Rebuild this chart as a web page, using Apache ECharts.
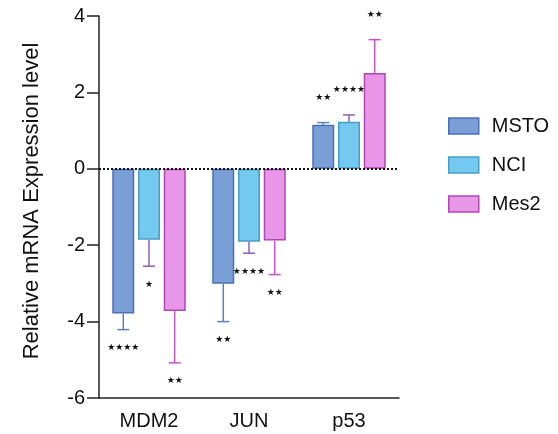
<!DOCTYPE html>
<html>
<head>
<meta charset="utf-8">
<script src="https://cdn.jsdelivr.net/npm/echarts@6/dist/echarts.min.js"></script>
<style>
html, body { margin: 0; padding: 0; background: #fff; }
#main { width: 558px; height: 434px; }
</style>
</head>
<body>
<div id="main"></div>
<script>
// 数据
const genes = ['MDM2', 'JUN', 'p53'];
const seriesNames = ['MSTO', 'NCI', 'Mes2'];
const msto = [-3.79, -3.01, 1.15];
const mstoErr = [0.42, 0.99, 0.06];
const mstoStars = ['****', '**', '**'];
const nci = [-1.86, -1.91, 1.23];
const nciErr = [0.69, 0.30, 0.18];
const nciStars = ['*', '****', '****'];
const mes2 = [-3.72, -1.88, 2.51];
const mes2Err = [1.36, 0.89, 0.87];
const mes2Stars = ['**', '**', '**'];
const yTicks = [-6, -4, -2, 0, 2, 4];

const fills = ['#7a9fd6', '#74c9f0', '#e896e8'];
const borders = ['#4b6fb5', '#4a9cc4', '#b047b3'];
const errColors = ['#5b7fc2', '#8a5fc4', '#c355c8'];

const BAR_W = 22;
const BAR_STEP = 25.7;

let chart = echarts.init(document.getElementById('main'));

const groups = [
    [msto, mstoErr, mstoStars],
    [nci, nciErr, nciStars],
    [mes2, mes2Err, mes2Stars]
];

// 误差线 + 星号
function errSeries(k) {
    let vals = groups[k][0], errs = groups[k][1], stars = groups[k][2];
    return {
        type: 'custom',
        name: seriesNames[k] + '_err',
        z: 5,
        silent: true,
        data: vals.map((v, i) => [i, v, errs[i]]),
        renderItem: function (params, api) {
            let i = api.value(0), v = api.value(1), e = api.value(2);
            let sign = v < 0 ? -1 : 1;
            let off = (k - 1) * BAR_STEP;
            let p0 = api.coord([i, v]);
            let p1 = api.coord([i, v + sign * e]);
            let x = p0[0] + off;
            let st = { stroke: errColors[k], lineWidth: 1.5 };
            let label = stars[params.dataIndex].replace(/\*/g, '★');
            let ty = sign < 0 ? p1[1] + 18 : p1[1] - 25;
            return {
                type: 'group',
                children: [
                    { type: 'line', shape: { x1: x, y1: p0[1], x2: x, y2: p1[1] }, style: st },
                    { type: 'line', shape: { x1: x - 6, y1: p1[1], x2: x + 6, y2: p1[1] }, style: st },
                    { type: 'text', x: x, y: ty, style: {
                        text: label, fill: '#111', font: '9px DejaVu Sans',
                        align: 'center', verticalAlign: 'middle'
                    } }
                ]
            };
        }
    };
}

const barSeries = groups.map((g, k) => ({
    type: 'bar',
    name: seriesNames[k],
    data: g[0],
    barWidth: BAR_W,
    barGap: '17%',
    itemStyle: { color: fills[k], borderColor: borders[k], borderWidth: 1.5 },
    markLine: k === 0 ? {
        silent: true,
        symbol: 'none',
        label: { show: false },
        lineStyle: { color: '#111', type: [2, 2], width: 2 },
        data: [{ yAxis: 0 }]
    } : undefined
}));

let option = {
    animation: false,
    backgroundColor: '#fff',
    grid: { left: 99, right: 159, top: 16, bottom: 36 },
    legend: {
        orient: 'vertical',
        left: 443,
        top: 111,
        icon: 'rect',
        itemWidth: 30,
        itemHeight: 16,
        itemGap: 19,
        textStyle: { fontFamily: 'Liberation Sans', fontSize: 20, color: '#111', padding: [0, 0, 0, 8] },
        data: seriesNames.map((n, k) => ({
            name: n,
            itemStyle: { color: fills[k], borderColor: borders[k], borderWidth: 1.5 }
        }))
    },
    xAxis: {
        type: 'category',
        data: genes,
        axisLine: { onZero: false, lineStyle: { color: '#222', width: 1.5 } },
        axisTick: { alignWithLabel: true, length: 7, lineStyle: { color: '#222', width: 1.5 } },
        axisLabel: { fontFamily: 'Liberation Sans', fontSize: 20, color: '#111', margin: 13 },
        splitLine: { show: false }
    },
    yAxis: {
        type: 'value',
        min: yTicks[0],
        max: yTicks[yTicks.length - 1],
        interval: 2,
        name: 'Relative mRNA Expression level',
        nameLocation: 'middle',
        nameGap: 56,
        nameTextStyle: { fontFamily: 'Liberation Sans', fontSize: 22, color: '#111', padding: [0, 0, 0, 12] },
        axisLine: { show: true, lineStyle: { color: '#222', width: 1.5 } },
        axisTick: { show: true, length: 12, lineStyle: { color: '#222', width: 1.5 } },
        axisLabel: { fontFamily: 'Liberation Sans', fontSize: 20, color: '#111', margin: 14 },
        splitLine: { show: false }
    },
    series: barSeries.concat([errSeries(0), errSeries(1), errSeries(2)])
};

chart.setOption(option);
</script>
</body>
</html>
